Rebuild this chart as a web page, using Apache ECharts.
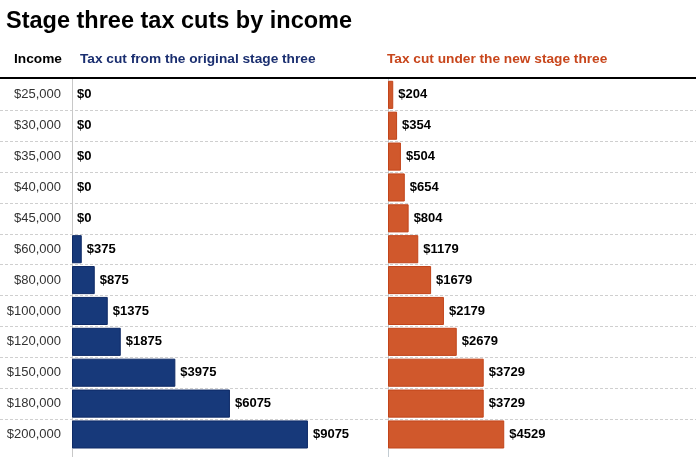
<!DOCTYPE html>
<html>
<head>
<meta charset="utf-8">
<script src="https://cdn.jsdelivr.net/npm/echarts@6/dist/echarts.min.js"></script>
<style>html,body{margin:0;padding:0;background:#fff}#c{width:696px;height:476px}</style>
</head>
<body>
<div id="c"></div>
<script>
const incomes = ['$25,000','$30,000','$35,000','$40,000','$45,000','$60,000','$80,000','$100,000','$120,000','$150,000','$180,000','$200,000'];
const originalCut = [0,0,0,0,0,375,875,1375,1875,3975,6075,9075];
const newCut = [204,354,504,654,804,1179,1679,2179,2679,3729,3729,4529];
const titleText = 'Stage three tax cuts by income';
const headerIncome = 'Income';
const headerOriginal = 'Tax cut from the original stage three';
const headerNew = 'Tax cut under the new stage three';

const FONT = '"Liberation Sans", Arial, sans-serif';
const NAVY = '#17397a', NAVY_B = '#0e2a66', NAVY_T = '#1b2f70';
const ORANGE = '#d0582c', ORANGE_B = '#c2441a', ORANGE_T = '#c8461c';
const TOP = 79.4, H = 370.5;

const toItems = arr => arr.map(v => v === 0 ? {value: v, itemStyle: {borderWidth: 0}} : v);

const chart = echarts.init(document.getElementById('c'), null, {renderer: 'canvas'});
const valueLabel = {show: true, position: 'right', distance: 5, formatter: p => '$' + p.value,
  fontFamily: FONT, fontSize: 13, fontWeight: 'bold', color: '#000'};
const hdr = c => ({fontFamily: FONT, fontSize: 13.7, fontWeight: 'bold', color: c});
chart.setOption({
  animation: false,
  backgroundColor: '#fff',
  title: [
    {text: titleText, left: 6, top: 10, padding: 0, textStyle: {fontFamily: FONT, fontSize: 23.5, fontWeight: 'bold', color: '#000'}},
    {text: headerIncome, left: 14, top: 52, padding: 0, textStyle: hdr('#000')},
    {text: headerOriginal, left: 80, top: 52, padding: 0, textStyle: hdr(NAVY_T)},
    {text: headerNew, left: 387, top: 52, padding: 0, textStyle: hdr(ORANGE_T)}
  ],
  grid: [
    {left: 0, right: 0, top: TOP, height: H},
    {left: 72, width: 312, top: TOP, height: H},
    {left: 388, width: 310, top: TOP, height: H}
  ],
  xAxis: [
    {gridIndex: 0, type: 'value', position: 'top', offset: 2, min: 0, max: 1,
      axisLine: {show: true, onZero: false, lineStyle: {color: '#000', width: 2}},
      axisTick: {show: false}, axisLabel: {show: false}, splitLine: {show: false}},
    {gridIndex: 1, type: 'value', min: 0, max: 12000, show: false, splitLine: {show: false}},
    {gridIndex: 2, type: 'value', min: 0, max: 12000, show: false, splitLine: {show: false}}
  ],
  yAxis: [
    {gridIndex: 0, type: 'value', min: 0, max: 12, interval: 1, inverse: true,
      axisLine: {show: false}, axisTick: {show: false}, axisLabel: {show: false},
      splitLine: {show: true, showMinLine: false, showMaxLine: false, lineStyle: {color: '#cfcfcf', type: [3, 2], width: 1}}},
    {gridIndex: 1, type: 'category', data: incomes, inverse: true,
      axisLine: {show: true, lineStyle: {color: '#c8c8c8', width: 1}}, axisTick: {show: false},
      axisLabel: {fontFamily: FONT, fontSize: 13, color: '#333', margin: 11, padding: [3, 0, 0, 0]}, splitLine: {show: false}},
    {gridIndex: 2, type: 'category', data: incomes, inverse: true,
      axisLine: {show: true, lineStyle: {color: '#c3ccd2', width: 1}}, axisTick: {show: false},
      axisLabel: {show: false}, splitLine: {show: false}}
  ],
  series: [
    {type: 'bar', xAxisIndex: 1, yAxisIndex: 1, data: toItems(originalCut), barCategoryGap: '9%',
      itemStyle: {color: NAVY, borderColor: NAVY_B, borderWidth: 1}, label: valueLabel, z: 3},
    {type: 'bar', xAxisIndex: 2, yAxisIndex: 2, data: toItems(newCut), barCategoryGap: '9%',
      itemStyle: {color: ORANGE, borderColor: ORANGE_B, borderWidth: 1}, label: valueLabel, z: 3}
  ],
  graphic: [
    {type: 'line', shape: {x1: 72.5, y1: TOP + H, x2: 72.5, y2: 457}, style: {stroke: '#c8c8c8', lineWidth: 1}},
    {type: 'line', shape: {x1: 388.5, y1: TOP + H, x2: 388.5, y2: 457}, style: {stroke: '#c3ccd2', lineWidth: 1}}
  ]
});
</script>
</body>
</html>
